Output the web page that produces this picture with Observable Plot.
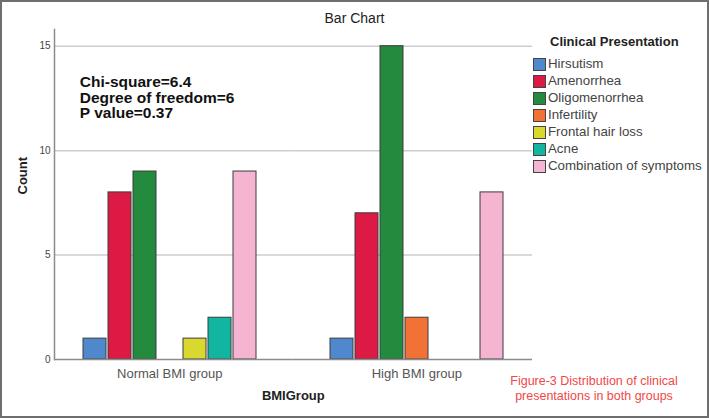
<!DOCTYPE html>
<html>
<head>
<meta charset="utf-8">
<script src="https://cdn.jsdelivr.net/npm/d3@7"></script>
<script src="https://cdn.jsdelivr.net/npm/@observablehq/plot@0.6"></script>
<style>
  html, body { margin: 0; padding: 0; background: #fff; }
  #wrap { position: relative; width: 709px; height: 418px; overflow: hidden; font-family: "Liberation Sans", Arial, sans-serif; background: #fff; }
  #border { position: absolute; left: 0; top: 0; width: 709px; height: 418px; box-sizing: border-box; border: 2px solid #6e6e6e; pointer-events: none; }
  #title { position: absolute; left: 0; top: 10px; width: 709px; text-align: center; font-size: 14px; color: #222; }
  #legend { position: absolute; left: 533px; top: 34px; }
  #legend .lt { position: absolute; left: 17px; top: 0; white-space: nowrap; font-size: 13px; font-weight: bold; color: #222; }
  #legend .item { position: absolute; left: 0; white-space: nowrap; height: 17px; }
  #legend .sw { position: absolute; left: 0; top: 2px; width: 11px; height: 11px; border: 1px solid #444; }
  #legend .tx { position: absolute; left: 15px; top: -1px; font-size: 13.3px; color: #444; line-height: 17px; }
  #caption { position: absolute; left: 494px; top: 374px; width: 200px; text-align: center; font-size: 12.5px; line-height: 14.5px; color: #f04848; }
  svg { position: absolute; left: 0; top: 0; }
</style>
</head>
<body>
<div id="wrap"></div>
<script>
const groups = ["Normal BMI group", "High BMI group"];
const symptoms = ["Hirsutism", "Amenorrhea", "Oligomenorrhea", "Infertility", "Frontal hair loss", "Acne", "Combination of symptoms"];
const normalCounts = [1, 8, 9, 0, 1, 2, 9];
const highCounts = [1, 7, 15, 2, 0, 0, 8];
const colors = ["#4f88cc", "#dc1a44", "#238a3e", "#f27236", "#d8d82e", "#12b5a0", "#f5b5d2"];
const yTicks = [0, 5, 10, 15];
const statLines = ["Chi-square=6.4", "Degree of freedom=6", "P value=0.37"];
const titleText = "Bar Chart";
const legendTitle = "Clinical Presentation";
const xLabel = "BMIGroup";
const yLabel = "Count";
const captionLines = ["Figure-3 Distribution of clinical", "presentations in both groups"];

const rows = [];
[normalCounts, highCounts].forEach((counts, gi) => {
  counts.forEach((c, si) => rows.push({group: groups[gi], symptom: symptoms[si], count: c}));
});

// axis inset: the y axis sits a little inside the first facet band
const axisInset = 8.2;
const gridStyle = {stroke: "#cdcdcd", strokeWidth: 1.5};
const baseStyle = {stroke: "#8c8c8c", strokeWidth: 1.5};
const first = () => groups[0];
const last = () => groups[1];

const plot = Plot.plot({
  width: 709,
  height: 418,
  marginTop: 29,
  marginBottom: 59,
  marginLeft: 45.8,
  marginRight: 169.2,
  style: {fontFamily: "Liberation Sans, Arial, sans-serif", background: "transparent", overflow: "visible"},
  fx: {domain: groups, paddingInner: 0, paddingOuter: 0, round: false, label: null},
  x: {domain: symptoms, paddingInner: 0.077, paddingOuter: 1.2885, align: 0.5, axis: null},
  y: {domain: [0, 15.8], axis: null},
  color: {domain: symptoms, range: colors},
  marks: [
    Plot.ruleY(yTicks.filter(d => d > 0), {fx: first, y: d => d, insetLeft: axisInset, ...gridStyle}),
    Plot.ruleY(yTicks.filter(d => d > 0), {fx: last, y: d => d, insetRight: 7.8, ...gridStyle}),
    Plot.barY(rows.filter(d => d.count > 0), {fx: "group", x: "symptom", y: "count", fill: "symptom", stroke: "#3c3c3c", strokeWidth: 1}),
    Plot.ruleY([0], {fx: first, y: d => d, insetLeft: axisInset, ...baseStyle}),
    Plot.ruleY([0], {fx: last, y: d => d, insetRight: 7.8, ...baseStyle}),
    Plot.frame({fx: first, anchor: "left", insetLeft: axisInset, ...baseStyle}),
    Plot.text(yTicks, {fx: first, y: d => d, text: d => String(d), frameAnchor: "left", dx: axisInset - 4, textAnchor: "end", fontSize: 10, fill: "#444"}),
    Plot.axisFx({anchor: "bottom", tickSize: 0, tickPadding: 9, fontSize: 13, fill: "#555", label: null}),
    Plot.text([yLabel], {fx: first, frameAnchor: "left", dx: axisInset - 32, rotate: -90, fontSize: 13, fontWeight: "bold", fill: "#222"}),
    Plot.text([xLabel], {fx: first, frameAnchor: "bottom-right", dy: 40, textAnchor: "middle", fontSize: 13, fontWeight: "bold", fill: "#222"}),
    Plot.text([statLines.join("\n")], {fx: first, frameAnchor: "top-left", dx: 33.5, dy: 46.5, lineAnchor: "top", lineHeight: 1, textAnchor: "start", fontSize: 15.5, fontWeight: "bold", fill: "#111"})
  ]
});

const wrap = document.getElementById("wrap");
wrap.appendChild(plot);

const title = document.createElement("div");
title.id = "title";
title.textContent = titleText;
wrap.appendChild(title);

const color = plot.scale("color");
const legend = document.createElement("div");
legend.id = "legend";
const lt = document.createElement("div");
lt.className = "lt";
lt.textContent = legendTitle;
legend.appendChild(lt);
symptoms.forEach((s, i) => {
  const item = document.createElement("div");
  item.className = "item";
  item.style.top = (22 + i * 17) + "px";
  const sw = document.createElement("div");
  sw.className = "sw";
  sw.style.background = color.apply(s);
  const tx = document.createElement("div");
  tx.className = "tx";
  tx.textContent = s;
  item.appendChild(sw);
  item.appendChild(tx);
  legend.appendChild(item);
});
wrap.appendChild(legend);

const cap = document.createElement("div");
cap.id = "caption";
cap.innerHTML = captionLines.join("<br>");
wrap.appendChild(cap);

const border = document.createElement("div");
border.id = "border";
wrap.appendChild(border);
</script>
</body>
</html>
